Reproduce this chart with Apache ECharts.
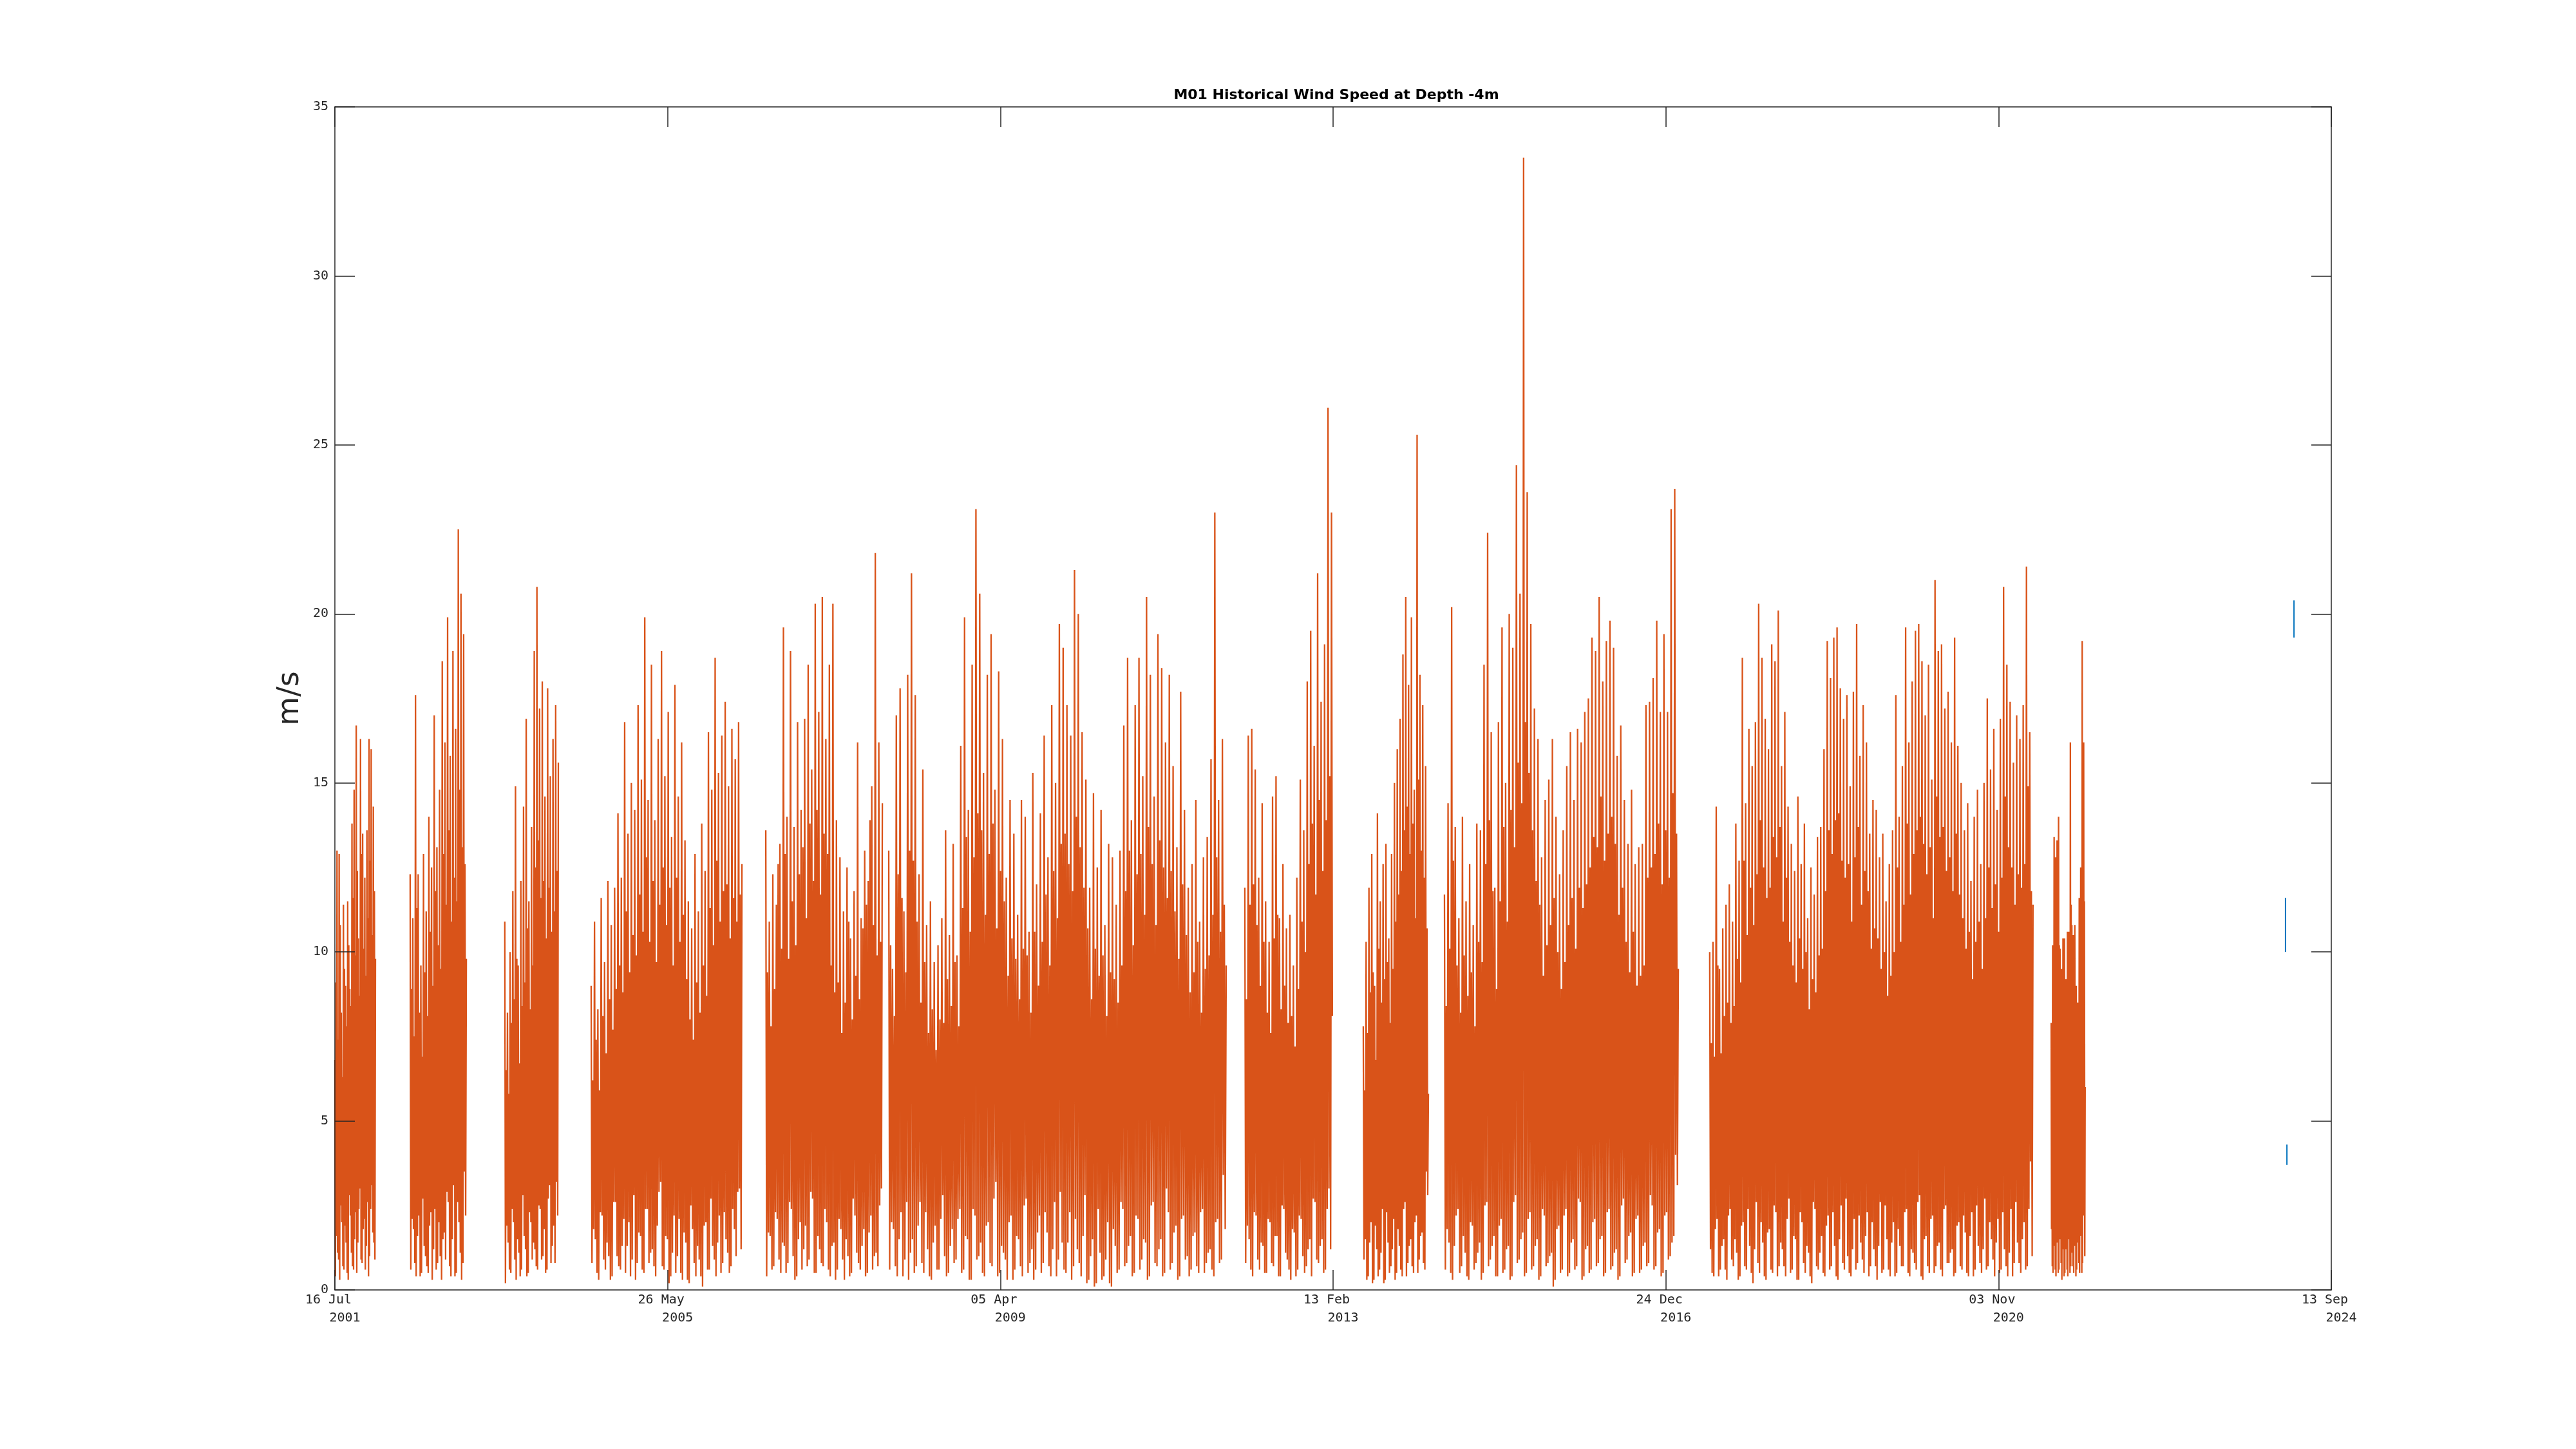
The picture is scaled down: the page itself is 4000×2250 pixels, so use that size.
<!DOCTYPE html>
<html>
<head>
<meta charset="utf-8">
<script src="https://cdn.jsdelivr.net/npm/echarts@6/dist/echarts.min.js"></script>
<style>html,body{margin:0;padding:0;background:#fff}#c{width:4000px;height:2250px}</style>
</head>
<body>
<div id="c"></div>
<script>
// ---- axis definitions ----
var axisStart = '2001-07-16';
var axisEnd = '2024-09-13';
var tickStepDays = 1410;
var yTicks = [0, 5, 10, 15, 20, 25, 30, 35];
var monthNames = ['Jan','Feb','Mar','Apr','May','Jun','Jul','Aug','Sep','Oct','Nov','Dec'];

// ---- deployments (start date, end date) ----
var deployStarts = ['2001-07-16','2002-05-31','2003-07-06','2004-07-06','2006-07-16','2007-12-19','2012-02-05','2013-06-21','2014-05-31','2017-06-28','2021-06-14'];
var deployEnds   = ['2002-01-04','2003-01-24','2004-02-18','2006-04-06','2007-11-22','2011-11-18','2013-02-10','2014-03-24','2017-02-15','2021-03-29','2021-11-05'];

// ---- wind speed readings (m/s): gust/lull pairs read along each deployment ----
var speed1 = [6.8,0.4,13.0,1.1,12.9,0.3,8.2,2.0,11.4,0.6,9.0,1.4,11.5,0.3,8.9,2.2,13.8,0.7,14.8,1.5,16.7,0.5,10.4,2.4,16.3,0.9,13.5,1.8,12.2,0.6,13.6,2.6,16.3,1.0,16.0,3.1,14.3,1.4,9.8];
var speed2 = [12.3,0.6,11.0,1.8,17.6,0.4,12.3,2.2,9.6,0.5,12.9,1.3,11.2,0.7,14.0,1.9,12.5,0.3,17.0,2.4,13.1,0.8,14.8,1.0,18.6,1.5,16.2,0.9,19.9,2.6,15.8,0.4,18.9,3.1,16.6,0.5,22.5,2.0,20.6,0.3,19.4,3.5,9.8];
var speed3 = [10.9,0.2,8.2,1.4,10.0,0.5,11.8,2.0,14.9,0.3,9.6,1.1,12.1,0.6,14.3,1.6,16.9,0.4,11.5,2.3,13.7,0.9,18.9,1.2,20.8,0.6,17.2,2.4,18.0,1.0,14.6,0.5,17.8,2.7,15.2,0.8,16.3,1.9,17.3,3.2,15.6];
var speed4 = [9.0,0.8,10.9,1.5,8.3,0.3,11.6,2.2,9.7,0.6,12.1,1.0,10.8,0.4,11.9,2.6,14.1,0.7,12.2,1.3,16.8,0.5,13.5,2.0,15.0,0.9,14.2,0.3,17.3,1.7,15.1,0.6,19.9,2.4,14.5,0.8,18.5,1.2,13.9,0.4,16.3,2.9,18.9,0.7,15.2,1.6,17.1,0.2,13.4,1.1,17.9,0.5,14.6,2.1,16.2,0.3,13.3,1.4,11.5,0.2,10.7,1.8,12.9,0.4,11.2,0.9,13.8,0.1,12.4,2.0,16.5,0.6,14.8,1.3,18.7,0.4,15.3,2.2,16.4,0.8,17.4,1.5,14.9,0.5,16.6,2.4,15.7,1.0,16.8,3.0,12.6];
var speed5 = [13.6,0.4,10.9,1.6,12.3,0.7,11.4,2.1,13.2,0.5,19.6,1.3,14.0,0.8,18.9,2.4,13.7,0.3,16.8,1.5,14.2,0.6,16.9,1.9,18.5,0.9,15.4,2.7,20.3,0.5,17.1,1.2,20.5,0.7,16.3,2.0,18.5,0.4,20.3,1.4,13.9,0.6,12.8,1.8,11.2,0.3,12.5,1.0,10.4,0.5,11.8,2.2,16.2,0.8,11.0,1.3,13.0,0.4,12.1,1.7,14.9,0.6,21.8,1.1,16.2,2.5,14.4];
var speed6 = [13.0,0.6,9.5,1.8,17.0,0.4,17.8,2.3,11.2,0.9,18.2,0.3,21.2,1.5,17.6,0.7,12.3,2.6,15.4,0.5,10.8,1.2,11.5,0.3,9.7,1.9,10.2,0.6,11.0,2.8,13.6,0.4,10.5,1.3,13.2,0.8,9.9,2.1,16.1,0.5,19.9,1.6,14.2,0.3,18.5,2.4,23.1,0.9,20.6,1.4,15.3,0.4,18.2,2.0,19.4,0.7,14.8,3.2,18.3,0.5,16.3,1.1,12.2,0.3,14.5,2.2,13.5,0.6,11.1,1.5,14.5,0.4,14.0,2.7,10.6,0.8,15.3,0.3,12.0,1.7,14.1,0.5,16.4,2.3,12.8,0.7,17.3,1.2,15.0,0.4,19.7,2.9,19.0,0.6,17.3,1.4,16.4,0.3,21.3,2.1,20.0,0.8,16.5,1.6,15.1,0.2,11.9,1.0,14.7,0.1,12.5,2.4,14.2,0.3,10.8,0.9,13.2,0.2,12.8,1.8,11.4,0.5,13.0,2.6,16.7,0.7,18.7,1.3,13.9,0.4,17.3,2.2,18.7,0.6,15.2,1.5,20.5,0.3,18.2,2.5,14.6,0.8,19.4,1.2,18.4,0.4,16.2,3.0,18.2,0.6,15.5,1.7,13.1,0.3,17.7,2.1,14.2,0.9,11.9,0.4,12.6,1.6,14.5,0.7,10.9,2.3,12.8,0.5,13.4,1.1,15.7,0.6,23.0,2.0,14.5,0.8,16.3,3.4,9.6];
var speed7 = [11.9,0.8,16.4,1.5,16.6,0.4,15.4,2.2,12.2,0.6,14.4,1.3,11.5,0.5,10.3,2.0,14.6,0.7,15.2,1.6,11.0,0.4,12.6,2.4,10.7,0.9,11.1,0.3,9.6,1.7,12.2,0.6,15.1,2.1,13.6,0.5,18.0,1.2,19.5,0.4,16.1,2.6,21.2,0.8,17.4,1.5,19.1,0.6,26.1,3.0,23.0,8.1];
var speed8 = [7.8,0.9,10.3,0.3,11.9,1.4,12.9,0.2,9.0,1.9,14.1,0.4,11.5,1.1,12.6,0.2,13.2,2.3,10.4,0.5,12.9,1.2,15.0,0.3,16.0,1.8,16.9,0.6,18.8,2.4,20.5,0.4,17.9,1.3,19.9,0.7,14.8,2.0,25.3,0.5,18.2,1.6,17.3,0.8,15.5,3.5,5.8];
var speed9 = [11.7,0.6,14.4,1.4,20.2,0.3,13.7,2.2,11.0,0.5,14.0,1.6,11.5,0.4,12.6,2.0,10.8,0.6,13.8,1.1,13.6,0.3,18.5,2.5,22.4,0.7,16.5,1.3,11.9,0.4,16.8,1.9,19.6,0.5,15.0,1.2,20.0,0.3,19.0,2.6,24.4,0.8,20.6,1.5,33.5,0.4,23.6,2.1,19.7,0.6,17.2,1.3,16.3,0.3,12.8,2.4,14.5,0.7,15.1,1.0,16.3,0.1,14.0,1.8,12.3,0.5,13.6,2.2,15.5,0.4,16.5,1.4,14.5,0.6,16.6,2.7,16.2,0.3,17.1,1.2,17.5,0.5,19.3,2.0,18.9,0.7,20.5,1.5,18.0,0.4,19.2,2.3,19.8,0.6,19.0,1.1,15.8,0.3,16.7,2.5,14.5,0.8,13.2,1.6,14.8,0.4,12.6,2.1,13.1,0.5,13.2,1.3,17.3,0.7,17.4,2.8,18.1,0.6,19.8,1.7,17.1,0.4,19.4,2.2,17.1,0.9,23.1,1.4,23.7,4.0,9.5];
var speed10 = [10.0,1.2,10.3,0.4,14.3,2.1,9.5,0.6,10.7,1.5,11.4,0.3,12.0,2.4,10.9,0.7,13.8,1.1,12.7,0.4,18.7,2.0,14.4,0.6,16.6,1.3,15.5,0.2,16.8,2.6,20.3,0.5,18.7,1.4,16.9,0.3,16.0,1.8,19.1,0.5,18.6,2.3,20.1,0.7,15.5,1.2,17.1,0.4,14.3,2.7,13.2,0.6,12.4,1.5,14.6,0.3,12.6,2.0,13.8,0.5,11.0,1.1,12.5,0.2,11.7,2.4,13.4,0.6,13.7,1.6,16.0,0.4,19.2,2.2,18.1,0.7,19.3,1.3,19.6,0.3,17.8,2.5,16.9,0.6,17.6,1.0,14.9,0.4,17.7,2.1,19.7,0.8,15.8,1.4,17.3,0.5,16.2,2.3,13.5,0.7,14.5,1.2,14.2,0.3,12.8,2.6,13.5,0.6,11.5,1.5,12.6,0.4,13.6,2.0,17.6,0.5,14.0,1.3,15.5,0.7,19.6,2.4,16.2,0.4,18.0,1.1,19.5,0.6,19.7,2.8,18.6,0.3,17.0,1.6,18.5,0.5,15.1,2.2,21.0,0.7,18.9,1.4,19.1,0.4,17.2,2.5,17.7,0.8,16.2,1.2,19.3,0.5,16.1,2.0,15.0,0.6,13.6,1.7,14.4,0.4,12.1,2.3,14.0,0.6,14.8,1.3,12.6,0.5,15.0,2.7,17.5,0.7,15.4,1.5,16.6,0.4,14.2,2.1,16.9,0.6,20.8,1.2,18.5,0.4,17.4,2.4,15.6,0.8,17.0,1.4,16.3,0.5,17.3,2.0,21.4,0.7,16.5,3.8,11.4];
var speed11 = [7.9,1.8,10.2,0.5,13.4,1.3,12.8,0.4,13.3,2.2,14.0,0.6,10.1,1.5,9.5,0.3,10.4,2.0,10.4,0.5,9.2,1.2,10.6,0.4,10.6,2.4,16.2,0.7,10.8,1.1,10.5,0.5,10.8,2.6,9.0,0.6,8.5,1.4,11.6,0.5,12.5,2.1,19.2,0.8,16.2,3.6,6.0];

// ---- in-between readings (m/s): the moderate swings between the gusts above ----
var between1 = [9.1,1.6,7.4,0.9,10.8,2.5,6.3,0.7,9.5,1.9,7.8,0.5,10.2,2.8,8.4,1.1,11.6,0.6,9.9,2.3,12.4,1.4,8.7,3.0,12.9,0.8,10.1,2.1,9.3,1.3,11.0,0.4,12.7,2.4,10.5,1.7,11.8,0.9];
var between2 = [8.9,2.1,7.5,0.8,11.3,1.6,8.2,0.4,6.9,2.7,9.4,1.0,8.1,0.5,10.6,2.3,9.0,1.2,11.8,0.6,10.2,2.0,9.5,0.3,12.9,1.7,11.4,2.9,13.6,0.7,10.9,1.5,12.2,0.4,11.5,2.6,14.8,1.1,13.1,0.8,12.6,2.2];
var between3 = [6.5,1.9,5.8,0.6,7.9,2.4,8.6,0.9,9.8,1.5,6.7,0.4,8.4,2.8,9.1,1.2,10.7,0.5,8.3,2.0,9.6,1.4,12.5,0.7,13.3,2.5,11.6,0.9,12.1,1.8,10.4,0.6,11.9,3.1,10.6,1.3,11.2,0.8,12.4,2.2];
var between4 = [6.2,1.8,7.4,0.5,5.9,2.3,8.1,0.9,7.0,1.4,8.6,0.3,7.7,2.6,8.9,1.0,9.6,0.6,8.8,2.1,11.2,1.3,9.4,0.4,10.5,2.8,9.9,0.8,11.7,1.6,10.6,0.5,12.8,2.4,10.3,1.1,12.1,0.7,9.7,1.9,11.4,3.2,12.5,0.6,10.8,1.5,11.9,0.4,9.6,2.2,12.2,1.0,10.3,0.5,11.1,1.7,9.2,0.3,8.0,2.5,7.4,0.8,9.1,1.3,8.2,0.4,9.6,1.9,8.7,0.6,11.3,2.7,10.2,0.9,12.7,1.4,10.9,0.5,11.8,2.3,12.0,1.1,10.4,0.7,11.6,1.8,10.9,2.9,11.7,1.2];
var between5 = [9.4,1.7,7.8,0.6,8.9,2.3,12.6,0.9,10.1,1.4,12.9,0.5,9.8,2.6,11.5,1.0,10.2,0.4,12.3,2.0,13.1,1.2,11.0,0.7,13.8,2.9,12.1,0.5,14.2,1.6,11.7,0.8,13.5,2.4,12.9,0.6,9.6,1.3,8.8,0.3,9.1,2.1,7.6,0.9,8.5,1.5,10.9,0.4,8.0,2.7,9.3,1.1,8.6,0.6,10.7,1.8,11.4,0.5,13.9,2.2,10.8,1.0,9.9,0.7,10.3,3.0];
var between6 = [10.2,2.0,8.1,0.7,12.3,1.5,11.6,0.4,9.4,2.6,13.0,1.1,12.7,0.5,10.9,1.9,8.5,0.8,9.7,2.3,7.6,0.4,8.3,1.4,7.1,0.6,8.0,2.1,7.9,1.0,9.2,0.5,8.4,1.8,9.7,0.9,7.8,2.4,11.3,0.6,13.4,1.5,10.6,0.3,12.8,2.2,14.1,1.0,13.6,0.5,11.1,1.9,12.9,0.8,13.8,2.7,10.7,0.4,12.4,1.3,11.5,0.9,9.3,2.0,10.4,0.3,9.8,1.6,8.6,0.7,10.1,2.5,9.9,0.5,8.2,1.2,10.6,0.6,9.0,2.2,10.3,0.8,11.7,1.7,9.6,0.4,12.4,2.6,11.0,0.9,13.2,1.4,13.5,0.5,12.6,2.3,11.8,0.7,14.0,1.2,13.1,0.4,11.9,2.8,10.7,0.3,8.6,1.5,10.1,0.2,9.3,1.1,9.9,0.4,8.1,2.0,9.4,0.1,9.2,1.3,8.5,0.6,9.6,2.4,11.8,0.8,13.0,1.6,10.2,0.5,12.3,2.1,12.9,0.9,11.1,1.4,13.7,0.4,12.6,2.6,10.8,0.7,13.3,1.5,12.5,0.5,11.6,2.3,12.4,0.8,11.2,1.9,9.8,0.4,12.0,2.2,10.5,1.0,8.8,0.6,9.4,1.7,10.3,0.5,8.2,2.4,9.5,0.8,9.9,1.2,11.1,0.4,12.8,2.1,10.6,0.9,11.4,1.8];
var between7 = [8.6,1.9,11.4,0.6,12.0,2.3,10.8,0.9,9.0,1.4,10.3,0.5,8.2,2.1,7.6,0.8,10.4,1.6,11.1,0.4,8.3,2.5,9.0,1.1,7.9,0.6,8.1,1.8,7.2,0.4,8.9,2.2,10.9,1.0,10.0,0.7,12.6,1.5,13.8,2.7,11.7,0.9,14.5,1.3,12.4,0.5,13.9,2.4,15.2,1.2];
var between8 = [5.9,1.5,7.6,0.4,8.8,2.0,9.4,0.3,6.8,1.2,10.1,0.6,8.5,2.4,9.2,0.3,9.7,1.4,7.9,0.7,9.5,2.1,10.9,0.5,11.7,1.3,12.4,0.4,13.6,2.6,14.3,0.8,12.9,1.5,13.8,0.5,11.0,2.2,15.1,0.9,13.0,1.7,12.2,0.6,10.7,2.8];
var between9 = [8.4,1.8,10.1,0.5,12.7,1.3,9.6,2.4,8.2,0.7,9.9,1.1,8.7,0.3,9.4,1.9,7.8,0.8,10.3,1.4,9.7,0.5,12.6,2.6,13.9,0.9,11.8,1.6,8.9,0.4,11.5,2.1,13.7,0.6,10.9,1.3,14.2,0.4,13.1,2.8,15.6,0.9,14.4,1.7,16.8,0.5,15.3,2.3,13.6,0.7,12.1,1.5,11.4,0.4,9.3,2.2,10.2,0.8,10.8,1.1,11.6,0.3,10.0,1.9,8.9,0.6,9.7,2.4,10.8,0.5,11.6,1.5,10.1,0.7,11.9,2.6,11.3,0.4,12.0,1.3,12.5,0.6,13.4,2.1,13.1,0.8,14.6,1.6,12.7,0.5,13.5,2.4,14.0,0.7,13.2,1.2,11.1,0.4,11.9,2.7,10.3,0.9,9.4,1.7,10.6,0.5,9.0,2.2,9.3,0.6,9.6,1.4,12.2,0.8,12.5,2.5,12.9,0.7,13.8,1.8,12.0,0.5,13.6,2.3,12.2,1.0,14.7,1.6,13.5,3.1];
var between10 = [7.3,0.5,6.9,1.8,9.6,0.4,7.0,1.3,8.1,0.6,8.5,2.2,7.9,0.9,8.4,1.5,9.8,0.3,9.1,1.9,12.7,0.7,10.5,2.4,11.9,0.5,10.8,1.2,12.3,0.8,13.9,2.0,12.5,0.4,11.6,1.7,11.9,0.6,13.4,2.5,12.8,0.4,13.7,1.4,10.9,0.7,12.2,2.1,10.3,0.5,9.6,1.6,9.1,0.3,10.4,2.3,9.5,0.8,10.0,1.3,8.3,0.4,9.2,2.6,8.8,0.7,9.9,1.1,10.1,0.5,11.8,1.9,13.6,0.6,12.9,2.3,13.9,0.4,14.1,1.5,12.7,0.8,12.2,2.7,12.6,0.5,10.9,1.2,12.8,0.6,13.7,2.2,11.4,0.9,12.4,1.6,11.8,0.4,10.1,2.0,10.7,0.7,10.4,1.3,9.5,0.5,10.0,2.5,8.7,0.6,9.3,1.4,10.0,0.4,12.5,1.8,10.3,0.7,11.4,2.3,13.8,0.5,11.7,1.2,12.9,0.8,13.6,2.6,14.0,0.4,13.2,1.5,12.3,0.7,13.1,2.1,11.0,0.5,14.6,1.3,13.4,0.6,13.7,2.4,12.4,0.8,12.8,1.1,11.8,0.4,13.5,1.9,11.7,0.7,11.0,2.2,10.1,0.5,10.6,1.6,9.2,0.4,10.3,2.5,10.9,0.8,9.5,1.2,11.0,0.6,12.5,2.0,11.3,0.9,12.0,1.4,10.6,0.5,12.2,2.3,14.6,0.7,13.1,1.1,12.5,0.4,11.4,2.6,12.3,0.8,11.9,1.5,12.6,0.6,14.9,2.4,11.8,1.0,9.2,2.9];
var between11 = [5.8,0.7,7.6,1.9,9.8,0.6,9.3,1.4,9.9,0.5,10.2,2.3,7.5,0.8,7.1,1.2,7.8,0.4,7.7,2.0,6.9,0.6,7.9,1.5,8.0,0.5,11.4,2.4,8.1,0.7,7.8,1.3,8.2,0.4,6.8,2.1,6.5,0.8,8.7,1.6,9.3,0.5,12.8,2.2,11.5,1.0];

// short recent records (blue)
var recentDates = ['2024-03-03','2024-03-09','2024-04-08'];
var recentLow  = [10.0, 3.7, 19.3];
var recentHigh = [11.6, 4.3, 20.4];

var speeds = [speed1,speed2,speed3,speed4,speed5,speed6,speed7,speed8,speed9,speed10,speed11];
var betweens = [between1,between2,between3,between4,between5,between6,between7,between8,between9,between10,between11];

// ---- helpers ----
var DAY = 86400000;
var T0 = Date.parse(axisStart + 'T00:00:00Z');
function dayIndex(s){ return (Date.parse(s + 'T00:00:00Z') - T0) / DAY; }
var axisMax = dayIndex(axisEnd);

function fmtTick(v){
  var d = new Date(T0 + Math.round(v) * DAY);
  var dd = ('0' + d.getUTCDate()).slice(-2);
  return '{a|' + dd + ' ' + monthNames[d.getUTCMonth()] + '}\n{b|' + d.getUTCFullYear() + '}';
}

// merge each gust/lull pair with the following in-between pair, in time order
function mergeReadings(main, extra){
  var out = [];
  var pairs = Math.floor(main.length / 2);
  for (var j = 0; j < pairs; j++){
    out.push(main[2*j], main[2*j+1]);
    if (2*j+1 < extra.length) out.push(extra[2*j], extra[2*j+1]);
  }
  if (main.length % 2) out.push(main[main.length-1]);
  return out;
}

var series = [];
speeds.forEach(function(vals0, k){
  var vals = mergeReadings(vals0, betweens[k]);
  var s = dayIndex(deployStarts[k]), e = dayIndex(deployEnds[k]);
  var n = vals.length;
  var data = vals.map(function(v, i){ return [s + (e - s) * i / (n - 1), v]; });
  series.push({
    type:'line', data:data, symbol:'none', showSymbol:false, sampling:null,
    lineStyle:{color:'#D95319', width:2.3}, itemStyle:{color:'#D95319'},
    silent:true, z:2
  });
});
recentDates.forEach(function(dt, k){
  var x = dayIndex(dt);
  series.push({
    type:'line', data:[[x, recentLow[k]],[x, recentHigh[k]]], symbol:'none', showSymbol:false,
    lineStyle:{color:'#0072BD', width:2}, itemStyle:{color:'#0072BD'}, silent:true, z:3
  });
});

var axisCol = '#262626';
var mono = 'DejaVu Sans Mono';
var chart = echarts.init(document.getElementById('c'), null, {renderer:'canvas', width:4000, height:2250});
chart.setOption({
  animation:false,
  backgroundColor:'#ffffff',
  title:{
    text:'M01 Historical Wind Speed at Depth -4m',
    left:2070, top:132, textAlign:'center',
    textStyle:{fontFamily:'DejaVu Sans', fontWeight:'bold', fontSize:22, color:'#000000'}
  },
  grid:{left:520, right:380, top:166, bottom:247, containLabel:false},
  xAxis:[{
    type:'value', min:0, max:axisMax, interval:tickStepDays, position:'bottom', z:5,
    axisLine:{show:true, onZero:false, lineStyle:{color:axisCol, width:1.5}},
    axisTick:{show:true, inside:true, length:31, lineStyle:{color:axisCol, width:1.5}},
    splitLine:{show:false},
    axisLabel:{
      show:true, margin:2, formatter:fmtTick, color:axisCol, fontFamily:mono, fontSize:20, lineHeight:28,
      showMinLabel:true, showMaxLabel:true,
      rich:{
        a:{fontFamily:mono, fontSize:20, color:axisCol, lineHeight:28, padding:[0,20,0,0]},
        b:{fontFamily:mono, fontSize:20, color:axisCol, lineHeight:28, padding:[0,0,0,31]}
      }
    }
  },{
    type:'value', min:0, max:axisMax, interval:tickStepDays, position:'top', z:5,
    axisLine:{show:true, onZero:false, lineStyle:{color:axisCol, width:1.5}},
    axisTick:{show:true, inside:true, length:31, lineStyle:{color:axisCol, width:1.5}},
    axisLabel:{show:false}, splitLine:{show:false}
  }],
  yAxis:[{
    type:'value', min:yTicks[0], max:yTicks[yTicks.length-1], interval:yTicks[1]-yTicks[0], position:'left', z:5,
    name:'m/s', nameLocation:'middle', nameGap:46,
    nameTextStyle:{fontFamily:'DejaVu Sans', fontSize:46, color:axisCol},
    axisLine:{show:true, onZero:false, lineStyle:{color:axisCol, width:1.5}},
    axisTick:{show:true, inside:true, length:31, lineStyle:{color:axisCol, width:1.5}},
    axisLabel:{show:true, margin:10, color:axisCol, fontFamily:mono, fontSize:20},
    splitLine:{show:false}
  },{
    type:'value', min:yTicks[0], max:yTicks[yTicks.length-1], interval:yTicks[1]-yTicks[0], position:'right', z:5,
    axisLine:{show:true, onZero:false, lineStyle:{color:axisCol, width:1.5}},
    axisTick:{show:true, inside:true, length:31, lineStyle:{color:axisCol, width:1.5}},
    axisLabel:{show:false}, splitLine:{show:false}
  }],
  series:series
});
</script>
</body>
</html>
